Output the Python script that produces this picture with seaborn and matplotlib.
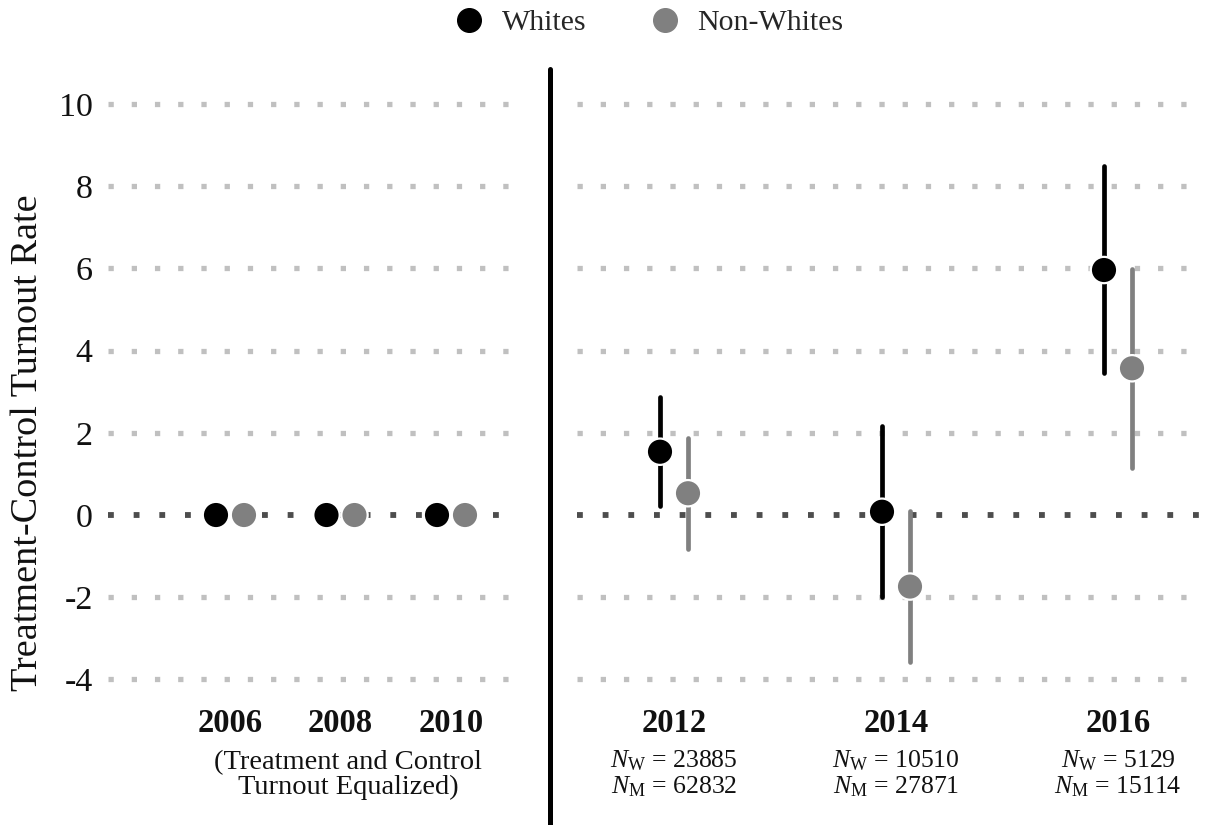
import matplotlib
matplotlib.use("Agg")
import matplotlib.pyplot as plt
from matplotlib.lines import Line2D
import numpy as np
import pandas as pd
import seaborn as sns

# ---- data -------------------------------------------------------------
years_pre = ["2006", "2008", "2010"]
white_pre = [0.0, 0.0, 0.0]
nonwhite_pre = [0.0, 0.0, 0.0]

years_post = ["2012", "2014", "2016"]
white_est = [1.54, 0.08, 5.96]
white_lo = [0.23, -2.00, 3.45]
white_hi = [2.87, 2.16, 8.48]
nonwhite_est = [0.53, -1.74, 3.57]
nonwhite_lo = [-0.82, -3.58, 1.14]
nonwhite_hi = [1.87, 0.09, 5.99]

n_white = [23885, 10510, 5129]
n_minority = [62832, 27871, 15114]

yticks = [-4, -2, 0, 2, 4, 6, 8, 10]
groups = ["Whites", "Non-Whites"]
note_pre = "(Treatment and Control\nTurnout Equalized)"

# ---- style ------------------------------------------------------------
sns.set_theme(style="white")
plt.rcParams["font.family"] = ["Liberation Serif", "DejaVu Serif"]
plt.rcParams["mathtext.fontset"] = "custom"
plt.rcParams["mathtext.rm"] = "Liberation Serif"
plt.rcParams["mathtext.it"] = "Liberation Serif:italic"

BLACK = "#000000"
GRAY = "#808080"
palette = {"Whites": BLACK, "Non-Whites": GRAY}
GRID = "#c0c0c0"
ZERO = "#4d4d4d"
DOTS = (0, (1, 3.4))
TEXT = "#111111"

W, H = 1206, 825
fig = plt.figure(figsize=(W / 100, H / 100), dpi=100)

ylim = (-4.5, 10.5)
ax_bottom = 1 - 700 / H
ax_height = (700 - 83.4) / H
ax_pre = fig.add_axes([108 / W, ax_bottom, (518 - 108) / W, ax_height])
ax_post = fig.add_axes([577 / W, ax_bottom, (1204 - 577) / W, ax_height])


def long_frame(years, w_est, nw_est, w_lo=None, w_hi=None, nw_lo=None, nw_hi=None):
    rows = []
    for i, y in enumerate(years):
        rows.append(dict(idx=i, year=y, group="Whites", est=w_est[i],
                         lo=None if w_lo is None else w_lo[i],
                         hi=None if w_hi is None else w_hi[i]))
        rows.append(dict(idx=i, year=y, group="Non-Whites", est=nw_est[i],
                         lo=None if nw_lo is None else nw_lo[i],
                         hi=None if nw_hi is None else nw_hi[i]))
    return pd.DataFrame(rows)


def draw_panel(ax, df, px_per_unit, xlim, with_bars):
    # half-distance between paired dots: 14 px
    dodge = 14 / px_per_unit
    df = df.copy()
    df["x"] = df["idx"] + np.where(df["group"] == "Whites", -dodge, dodge)

    for t in yticks:
        if t == 0:
            continue
        ax.axhline(t, color=GRID, lw=3.8, ls=DOTS, dash_capstyle="butt", zorder=1)
    ax.axhline(0, color=ZERO, lw=4.2, ls=DOTS, dash_capstyle="butt", zorder=1)

    if with_bars:
        for g in groups:
            sub = df[df["group"] == g]
            lc = ax.vlines(sub["x"], sub["lo"], sub["hi"], color=palette[g],
                           lw=3.4, zorder=2)
            lc.set_capstyle("round")

    sns.scatterplot(data=df, x="x", y="est", hue="group", palette=palette,
                    hue_order=groups, s=360, edgecolor="white", linewidth=1.6,
                    legend=False, ax=ax, zorder=3, clip_on=False)

    ax.set_xlim(*xlim)
    ax.set_ylim(*ylim)
    ax.set_xlabel("")
    ax.set_ylabel("")
    ax.set_xticks([])
    for s in ax.spines.values():
        s.set_visible(False)
    ax.patch.set_alpha(0)
    return df


# ---- pre-period panel -------------------------------------------------
df_pre = long_frame(years_pre, white_pre, nonwhite_pre)
ppu_pre = 110.5
draw_panel(ax_pre, df_pre, ppu_pre,
           ((108 - 230) / ppu_pre, (518 - 230) / ppu_pre), with_bars=False)
ax_pre.set_yticks(yticks, labels=[str(t) for t in yticks])
ax_pre.tick_params(axis="y", length=0, pad=11, labelsize=24.5, labelcolor=TEXT)

# ---- post-period panel ------------------------------------------------
df_post = long_frame(years_post, white_est, nonwhite_est,
                     white_lo, white_hi, nonwhite_lo, nonwhite_hi)
ppu_post = 222.0
draw_panel(ax_post, df_post, ppu_post,
           ((577 - 674) / ppu_post, (1204 - 674) / ppu_post), with_bars=True)
ax_post.set_yticks([])


# ---- category labels below the panels --------------------------------
def fy(px):
    return 1 - px / H


for i, y in enumerate(years_pre):
    xf = (230 + i * ppu_pre) / W
    fig.text(xf, fy(724), y, ha="center", va="center", fontsize=23.5,
             fontweight="bold", color=TEXT)
fig.text(348 / W, fy(775), note_pre, ha="center", va="center", fontsize=20.5,
         linespacing=1.0, color=TEXT)

for i, y in enumerate(years_post):
    xf = (674 + i * ppu_post) / W
    fig.text(xf, fy(724), y, ha="center", va="center", fontsize=23.5,
             fontweight="bold", color=TEXT)
    fig.text(xf, fy(761), r"$N_{\mathrm{W}}$ = %d" % n_white[i], ha="center",
             va="center", fontsize=18.5, color=TEXT)
    fig.text(xf, fy(787), r"$N_{\mathrm{M}}$ = %d" % n_minority[i], ha="center",
             va="center", fontsize=18.5, color=TEXT)

# ---- divider between periods -----------------------------------------
fig.add_artist(Line2D([549.5 / W, 549.5 / W], [0, fy(69)], color=BLACK, lw=3.6,
                      transform=fig.transFigure))

# ---- axis title -------------------------------------------------------
fig.text(28 / W, fy(443), "Treatment-Control Turnout Rate", rotation=90,
         ha="center", va="center", fontsize=27.5, color=TEXT)

# ---- legend -----------------------------------------------------------
handles = [Line2D([], [], ls="", marker="o", markersize=17,
                  markerfacecolor=palette[g], markeredgecolor=palette[g])
           for g in groups]
fig.legend(handles, groups, loc="center", ncol=2, frameon=False,
           bbox_to_anchor=(649 / W, fy(23)), fontsize=21.5, handletextpad=0.6,
           columnspacing=2.1, handlelength=1.0)

fig.savefig("out.png", dpi=100, facecolor="white")
